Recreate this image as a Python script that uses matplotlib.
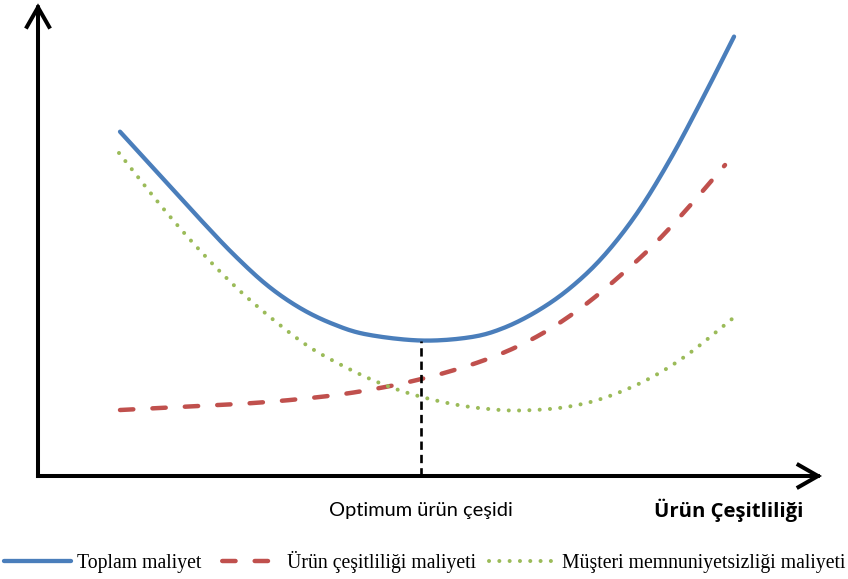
import numpy as np
import matplotlib
matplotlib.use("Agg")
import matplotlib.pyplot as plt
from matplotlib.lines import Line2D
from matplotlib.patches import FancyArrowPatch, ArrowStyle
from matplotlib.transforms import blended_transform_factory

# Cost curves against product variety (both on a 0-100 relative scale)
total_x = [10.46, 16.45, 20.66, 24.87, 29.21, 33.42, 37.63, 41.96, 48.85,
           55.10, 59.31, 63.65, 67.86, 72.07, 76.40, 80.61, 84.82, 88.78]
total_y = [73.57, 62.59, 54.89, 47.48, 40.79, 35.90, 32.48, 30.24, 28.95,
           29.64, 31.58, 35.21, 40.15, 46.86, 56.13, 67.59, 80.81, 93.89]

variety_x = [10.46, 20.66, 29.21, 37.63, 44.01, 48.72, 52.93, 57.27, 61.48, 65.69,
             70.03, 74.23, 78.44, 82.78, 87.63]
variety_y = [14.10, 14.96, 15.81, 17.22, 18.93, 20.66, 22.56, 24.96, 27.93, 31.82,
             36.90, 42.76, 49.25, 57.05, 66.45]

dissat_x = [10.33, 13.39, 16.45, 19.77, 23.21, 26.66, 30.87, 34.69, 38.90, 43.24,
            47.83, 52.93, 57.27, 61.48, 66.96, 72.07, 77.68, 82.78, 88.52]
dissat_y = [69.02, 62.50, 56.20, 49.81, 43.70, 38.16, 32.24, 27.48, 23.53, 20.11,
            17.41, 15.36, 14.34, 14.00, 14.64, 16.60, 20.56, 25.85, 33.55]

optimum_x = 48.85

series_labels = ["Toplam maliyet", "Ürün çeşitliliği maliyeti",
                 "Müşteri memnuniyetsizliği maliyeti"]
optimum_label = "Optimum ürün çeşidi"
x_axis_label = "Ürün Çeşitliliği"

BLUE = "#4a7ebb"
RED = "#c0504d"
GREEN = "#9bbb59"
RED_DASH = (3.0, 4.3)


def smooth(xs, ys, n=16):
    """Catmull-Rom resampling so the polyline is drawn as a smooth curve."""
    p = np.column_stack([xs, ys]).astype(float)
    p = np.vstack([2 * p[0] - p[1], p, 2 * p[-1] - p[-2]])
    out = []
    t = np.linspace(0, 1, n, endpoint=False)[:, None]
    for i in range(1, len(p) - 2):
        p0, p1, p2, p3 = p[i - 1], p[i], p[i + 1], p[i + 2]
        seg = 0.5 * ((2 * p1) + (-p0 + p2) * t + (2 * p0 - 5 * p1 + 4 * p2 - p3) * t ** 2
                     + (-p0 + 3 * p1 - 3 * p2 + p3) * t ** 3)
        out.append(seg)
    out.append(p[-2][None, :])
    out = np.vstack(out)
    return out[:, 0], out[:, 1]


fig = plt.figure(figsize=(8.48, 5.79), dpi=100)
ax = fig.add_axes([38 / 848, 103 / 579, 784 / 848, 468 / 579])
ax.set_xlim(0, 100)
ax.set_ylim(0, 100)
ax.set_axis_off()

sx, sy = smooth(total_x, total_y)
l1, = ax.plot(sx, sy, color=BLUE, lw=3.1, solid_capstyle="round",
              label=series_labels[0])
sx, sy = smooth(variety_x, variety_y)
ax.plot(sx, sy, color=RED, lw=3.2, dash_capstyle="round", ls=(0, RED_DASH))
sx, sy = smooth(dissat_x, dissat_y)
l3, = ax.plot(sx, sy, color=GREEN, lw=2.9, dash_capstyle="round",
              label=series_labels[2])
l3.set_dashes((0.01, 2.55))

# legend key for the dashed series, phased so two whole dashes show
l2 = Line2D([], [], color=RED, lw=3.2, dash_capstyle="round",
            ls=(5.45, RED_DASH), label=series_labels[1])

# optimum marker line down from the minimum of the total cost
ax.plot([optimum_x, optimum_x], [0, min(total_y)], color="black", lw=1.9,
        dashes=(3.15, 1.9))

# axes with open arrow heads
style = ArrowStyle("->", head_length=14, head_width=8)
for end in [(1.0, 0.0), (0.0, 1.01)]:
    arr = FancyArrowPatch((0.0, 0.0), end, transform=ax.transAxes,
                          arrowstyle=style, mutation_scale=1, lw=2.9,
                          color="black", clip_on=False, shrinkA=0, shrinkB=0,
                          capstyle="projecting", joinstyle="miter")
    ax.add_patch(arr)

trans = blended_transform_factory(ax.transData, ax.transAxes)
ax.text(optimum_x, -0.073, optimum_label, transform=trans, ha="center",
        va="center", fontsize=14.4, family="Lato")
ax.text(0.881, -0.073, x_axis_label, transform=ax.transAxes, ha="center",
        va="center", fontsize=14.6, family="Open Sans", fontweight="bold")

fig.legend(handles=[l1, l2, l3], loc="lower center", bbox_to_anchor=(0.5012, -0.0138),
           ncol=3, frameon=False, prop={"family": "Liberation Serif", "size": 14.2},
           handlelength=3.4, handletextpad=0.3, columnspacing=0.65,
           borderaxespad=0.3)

fig.savefig("out.png", dpi=100)
